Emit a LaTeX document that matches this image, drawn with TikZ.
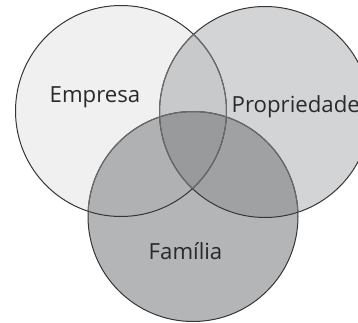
\documentclass[tikz,border=0pt]{standalone}
\usepackage{fontspec}
\setmainfont{Open Sans}
\begin{document}
\begin{tikzpicture}[x=1pt,y=-1pt]
\definecolor{cE}{HTML}{F0F0F0}
\definecolor{cP}{HTML}{D3D4D6}
\definecolor{cF}{HTML}{B4B5B7}
\definecolor{cEP}{HTML}{C8C9CB}
\definecolor{cEF}{HTML}{B0B1B3}
\definecolor{cPF}{HTML}{A0A1A3}
\definecolor{cEPF}{HTML}{999A9C}
\definecolor{lnDark}{HTML}{363636}
\definecolor{lnLight}{HTML}{6B6B6B}
\definecolor{txt}{HTML}{2A2A2A}
\tikzset{
  dk/.style={draw=lnDark, line width=1pt},
  lt/.style={draw=lnLight, line width=1pt},
  lbl/.style={anchor=base west, inner sep=0pt, text=txt, font=\fontsize{22.2}{26}\selectfont}
}
\def\cEc{(121,111) circle[radius=105.5pt]}
\def\cPc{(265,112) circle[radius=105.5pt]}
\def\cFc{(193,216.5) circle[radius=105pt]}
\path[use as bounding box] (0,0) rectangle (358,323);
\clip (0,0) rectangle (358,323);
% fills
\fill[cE] \cEc;
\fill[cP] \cPc;
\fill[cF] \cFc;
\begin{scope}\clip \cEc; \fill[cEP] \cPc; \end{scope}
\begin{scope}\clip \cEc; \fill[cEF] \cFc; \end{scope}
\begin{scope}\clip \cPc; \fill[cPF] \cFc; \end{scope}
\begin{scope}\clip \cEc; \clip \cPc; \fill[cEPF] \cFc; \end{scope}
% outlines
\draw[dk] \cEc;
\draw[dk] \cPc;
\draw[dk] \cFc;
\begin{scope}\clip \cPc; \draw[lt] \cEc; \end{scope}
\begin{scope}\clip \cEc; \draw[lt] \cPc; \end{scope}
\begin{scope}\clip \cEc; \draw[lt] \cFc; \end{scope}
\begin{scope}\clip \cPc; \draw[lt] \cFc; \end{scope}
% labels
\node[lbl] (empresa) at (49.5,102.7) {Empresa};
\node[lbl] (propriedade) at (231.5,112.7) {Propriedade};
\node[lbl] (familia) at (148.5,259) {Família};
\end{tikzpicture}
\end{document}
